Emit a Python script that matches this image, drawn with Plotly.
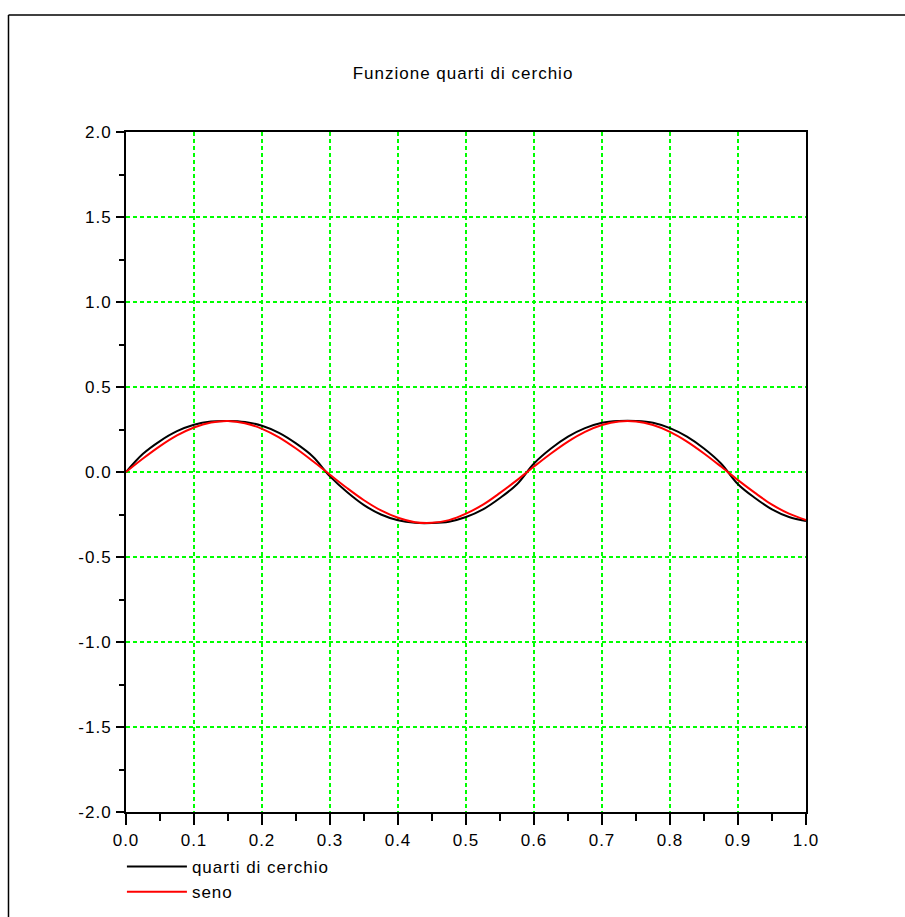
import plotly.graph_objects as go

# sample positions along x
t = [0.000, 0.025, 0.050, 0.075, 0.100, 0.125, 0.150, 0.175, 0.200, 0.225,
     0.250, 0.275, 0.300, 0.325, 0.350, 0.375, 0.400, 0.425, 0.450, 0.475,
     0.500, 0.525, 0.550, 0.575, 0.600, 0.625, 0.650, 0.675, 0.700, 0.725,
     0.750, 0.775, 0.800, 0.825, 0.850, 0.875, 0.900, 0.925, 0.950, 0.975,
     1.000]

# quarter-circle waveform
quarti = [0.000, 0.107, 0.182, 0.240, 0.278, 0.297, 0.300, 0.294, 0.272, 0.230,
          0.168, 0.090, -0.026, -0.118, -0.195, -0.250, -0.284, -0.299, -0.300, -0.292,
          -0.265, -0.220, -0.153, -0.072, 0.050, 0.138, 0.208, 0.258, 0.290, 0.300,
          0.300, 0.290, 0.258, 0.208, 0.138, 0.050, -0.072, -0.153, -0.220, -0.265,
          -0.288]

# reference sine
seno = [0.000, 0.079, 0.152, 0.215, 0.262, 0.291, 0.300, 0.287, 0.254, 0.204,
        0.138, 0.063, -0.016, -0.094, -0.166, -0.226, -0.269, -0.295, -0.299, -0.283,
        -0.245, -0.192, -0.123, -0.048, 0.032, 0.109, 0.179, 0.236, 0.276, 0.297,
        0.297, 0.276, 0.236, 0.179, 0.109, 0.032, -0.048, -0.123, -0.192, -0.245,
        -0.282]

series_names = ["quarti di cerchio", "seno"]
title_text = "Funzione quarti di cerchio"
x_ticks = [0.0, 0.1, 0.2, 0.3, 0.4, 0.5, 0.6, 0.7, 0.8, 0.9, 1.0]
x_tick_labels = ["0.0", "0.1", "0.2", "0.3", "0.4", "0.5", "0.6", "0.7", "0.8", "0.9", "1.0"]
y_ticks = [-2.0, -1.5, -1.0, -0.5, 0.0, 0.5, 1.0, 1.5, 2.0]
y_tick_labels = ["-2.0", "-1.5", "-1.0", "-0.5", "0.0", "0.5", "1.0", "1.5", "2.0"]

FONT = "Liberation Sans, Arial, sans-serif"
GRID = "#00ff00"

fig = go.Figure()
fig.add_trace(go.Scatter(x=t, y=quarti, mode="lines", name=series_names[0],
                         line=dict(color="#000000", width=2, shape="spline")))
fig.add_trace(go.Scatter(x=t, y=seno, mode="lines", name=series_names[1],
                         line=dict(color="#ff0000", width=2, shape="spline")))

axis_common = dict(
    showline=True, linecolor="#000000", linewidth=2, mirror=True,
    showgrid=True, gridcolor=GRID, gridwidth=2, griddash="4px,3px",
    zeroline=False, ticks="outside", tickcolor="#000000", tickwidth=2,
    tickfont=dict(family=FONT, size=17, color="#000000"),
)

fig.update_xaxes(range=[0, 1], tickvals=x_ticks, ticktext=x_tick_labels, ticklen=11,
                 minor=dict(dtick=0.05, ticks="outside", ticklen=7,
                            tickcolor="#000000", tickwidth=2, showgrid=False),
                 ticklabelstandoff=1, **axis_common)
fig.update_yaxes(range=[-2, 2], tickvals=y_ticks, ticktext=y_tick_labels, ticklen=8,
                 minor=dict(dtick=0.25, ticks="outside", ticklen=5,
                            tickcolor="#000000", tickwidth=2, showgrid=False),
                 ticklabelstandoff=1, **axis_common)

# outer window frame (top and left edges)
frame = dict(type="line", xref="paper", yref="paper",
             line=dict(color="#000000", width=1.5))
fig.add_shape(x0=-0.1728, x1=1.2, y0=1.1722, y1=1.1722, **frame)
fig.add_shape(x0=-0.1728, x1=-0.1728, y0=1.1722, y1=-0.2, **frame)

fig.update_layout(
    width=905, height=917,
    margin=dict(l=126, r=99, t=132, b=105, autoexpand=False),
    paper_bgcolor="#ffffff", plot_bgcolor="#ffffff",
    title=dict(text=title_text, x=0.4956, xref="paper", xanchor="center",
               y=0.9205, yref="container", yanchor="middle",
               font=dict(family=FONT, size=17, color="#000000")),
    showlegend=True,
    legend=dict(x=-0.006, xanchor="left", y=-0.0545, yanchor="top",
                itemwidth=60, bgcolor="rgba(0,0,0,0)", borderwidth=0,
                font=dict(family=FONT, size=17, color="#000000"),
                tracegroupgap=0),
)

# slightly open letter spacing on all chart text; the legend box is
# unclipped so the wider entry labels stay fully visible
spacing_js = """
var gd = document.getElementById('{plot_id}');
function openText() {
  gd.querySelectorAll('text').forEach(function (el) { el.style.letterSpacing = '1px'; });
  gd.querySelectorAll('.legend .scrollbox, .legend').forEach(function (el) {
    el.removeAttribute('clip-path');
  });
}
openText();
gd.on('plotly_afterplot', openText);
"""

fig.write_html("out.html", post_script=spacing_js)
